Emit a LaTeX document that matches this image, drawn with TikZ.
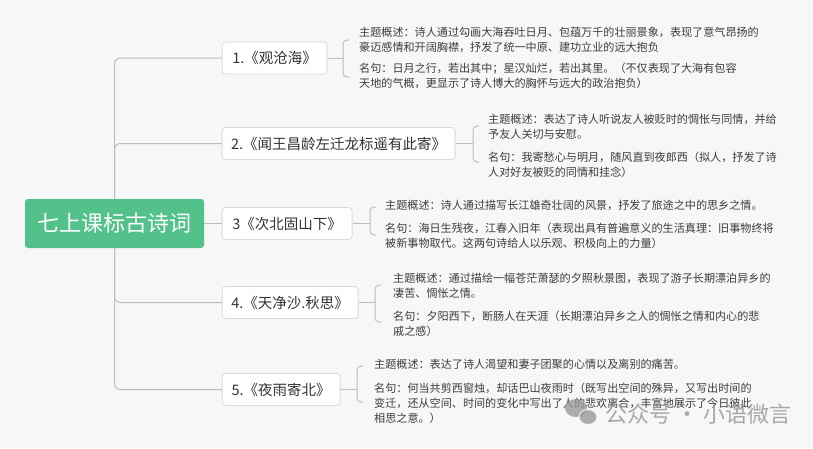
\documentclass[tikz,border=0pt]{standalone}
\usepackage{fontspec}
\setmainfont{Noto Sans CJK SC}
\definecolor{bgc}{HTML}{F7F7F7}
\definecolor{rootg}{HTML}{52C28A}
\definecolor{linec}{HTML}{BDBDBD}
\definecolor{boxb}{HTML}{DADADA}
\definecolor{textc}{HTML}{333333}
\definecolor{descc}{HTML}{3C3C3C}
\definecolor{wmc}{HTML}{9A9A9A}
\begin{document}
\begin{tikzpicture}[x=1pt,y=-1pt,
  conn/.style={draw=linec, line width=1pt},
  rootbox/.style={fill=rootg, rounded corners=3pt, text=white, font=\fontsize{22}{26}\selectfont, minimum width=179pt, minimum height=49pt, inner sep=0pt},
  branchbox/.style={draw=boxb, line width=0.8pt, fill=white, rounded corners=3.5pt, text=textc, font=\fontsize{14.5}{17}\selectfont, minimum height=32pt, inner sep=0pt, anchor=west},
  desc/.style={anchor=north west, align=left, inner sep=0pt, text=descc, font=\fontsize{11.1}{15}\selectfont},
  brace/.style={draw=linec, line width=1pt, rounded corners=4pt}
]
\fill[bgc] (0,0) rectangle (813,448);
\useasboundingbox (0,0) rectangle (813,448);

% root
\node[rootbox] (root) at (114.5,223.5) {七上课标古诗词};

% branches
\node[branchbox, minimum width=105pt] (b1) at (221.7,58) {1.《观沧海》};
\node[branchbox, minimum width=233pt] (b2) at (221.7,143.5) {2.《闻王昌龄左迁龙标遥有此寄》};
\node[branchbox, minimum width=130pt] (b3) at (221.7,223.5) {3《次北固山下》};
\node[branchbox, minimum width=136pt] (b4) at (221.7,302.5) {4.《天净沙.秋思》};
\node[branchbox, minimum width=118pt] (b5) at (221.7,389.5) {5.《夜雨寄北》};

% trunk connectors
\draw[conn, rounded corners=6pt] (root.north) |- (b1.west);
\draw[conn, rounded corners=6pt] (root.north) |- (b2.west);
\draw[conn] (root.east) -- (b3.west);
\draw[conn, rounded corners=6pt] (root.south) |- (b4.west);
\draw[conn, rounded corners=6pt] (root.south) |- (b5.west);

% bracket coordinates
\coordinate (k1) at (343,58);
\coordinate (k2) at (473,143.5);
\coordinate (k3) at (370,223.5);
\coordinate (k4) at (375,302.5);
\coordinate (k5) at (357,389.5);

\draw[conn] (b1.east) -- (k1);
\draw[conn] (b2.east) -- (k2);
\draw[conn] (b3.east) -- (k3);
\draw[conn] (b4.east) -- (k4);
\draw[conn] (b5.east) -- (k5);

\draw[brace] (349,40) -- (343,40) -- (343,77) -- (349,77);
\draw[brace] (479,126) -- (473,126) -- (473,162) -- (479,162);
\draw[brace] (376,207) -- (370,207) -- (370,235) -- (376,235);
\draw[brace] (381,285) -- (375,285) -- (375,322) -- (381,322);
\draw[brace] (363,366) -- (357,366) -- (357,402) -- (363,402);

% descriptions
\node[desc] (d1a) at (359,26.5) {主题概述：诗人通过勾画大海吞吐日月、包蕴万千的壮丽景象，表现了意气昂扬的\\豪迈感情和开阔胸襟，抒发了统一中原、建功立业的远大抱负};
\node[desc] (d1b) at (359,62.5) {名句：日月之行，若出其中；星汉灿烂，若出其里。（不仅表现了大海有包容\\天地的气概，更显示了诗人博大的胸怀与远大的政治抱负）};

\node[desc] (d2a) at (488,114) {主题概述：表达了诗人听说友人被贬时的惆怅与同情，并给\\予友人关切与安慰。};
\node[desc] (d2b) at (488,151.5) {名句：我寄愁心与明月，随风直到夜郎西（拟人，抒发了诗\\人对好友被贬的同情和挂念）};

\node[desc] (d3a) at (385,199.5) {主题概述：诗人通过描写长江雄奇壮阔的风景，抒发了旅途之中的思乡之情。};
\node[desc] (d3b) at (385,222.5) {名句：海日生残夜，江春入旧年（表现出具有普遍意义的生活真理：旧事物终将\\被新事物取代。这两句诗给人以乐观、积极向上的力量）};

\node[desc] (d4a) at (393,272.5) {主题概述：通过描绘一幅苍茫萧瑟的夕照秋景图，表现了游子长期漂泊异乡的\\凄苦、惆怅之情。};
\node[desc] (d4b) at (393,310.5) {名句：夕阳西下，断肠人在天涯（长期漂泊异乡之人的惆怅之情和内心的悲\\戚之感）};

\node[desc] (d5a) at (374,358.5) {主题概述：表达了诗人渴望和妻子团聚的心情以及离别的痛苦。};
\node[desc] (d5b) at (374,382.5) {名句：何当共剪西窗烛，却话巴山夜雨时（既写出空间的殊异，又写出时间的\\变迁，还从空间、时间的变化中写出了人的悲欢离合，丰富地展示了今日彼此\\相思之意。）};

% watermark
\fill[wmc, opacity=0.8] (576,408) ellipse [x radius=11pt, y radius=9pt];
\fill[wmc, opacity=0.8, draw=white, line width=1pt] (588,417) ellipse [x radius=9pt, y radius=7.5pt];
\node[anchor=west, inner sep=0pt, text=wmc, opacity=0.85, font=\fontsize{22}{26}\selectfont] (wm) at (605,414) {公众号 · 小语微言};
\end{tikzpicture}
\end{document}
